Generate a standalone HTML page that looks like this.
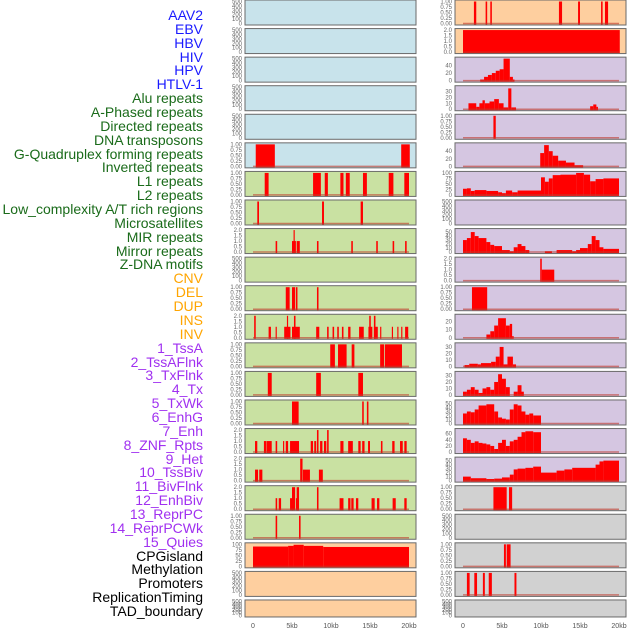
<!DOCTYPE html>
<html><head><meta charset="utf-8">
<style>
body{margin:0;background:#fff;width:630px;height:630px;overflow:hidden;font-family:"Liberation Sans",sans-serif;}
#labels{position:absolute;left:0;top:0;width:203px;}
.lab{position:absolute;right:0;font-size:14px;line-height:14px;white-space:nowrap;text-align:right;}
svg{position:absolute;left:0;top:0;}
</style></head><body>
<div id="labels"></div>
<svg id="chart" width="630" height="630"></svg>
<script>
const trackNames = ["AAV2","EBV","HBV","HIV","HPV","HTLV-1","Alu repeats","A-Phased repeats","Directed repeats","DNA transposons","G-Quadruplex forming repeats","Inverted repeats","L1 repeats","L2 repeats","Low_complexity A/T rich regions","Microsatellites","MIR repeats","Mirror repeats","Z-DNA motifs","CNV","DEL","DUP","INS","INV","1_TssA","2_TssAFlnk","3_TxFlnk","4_Tx","5_TxWk","6_EnhG","7_Enh","8_ZNF_Rpts","9_Het","10_TssBiv","11_BivFlnk","12_EnhBiv","13_ReprPC","14_ReprPCWk","15_Quies","CPGisland","Methylation","Promoters","ReplicationTiming","TAD_boundary"];
const trackGroups = ["v","v","v","v","v","v","r","r","r","r","r","r","r","r","r","r","r","r","r","s","s","s","s","s","c","c","c","c","c","c","c","c","c","c","c","c","c","c","c","o","o","o","o","o"];
const xTicks = [0,5,10,15,20];
const xTickLabels = ["0","5kb","10kb","15kb","20kb"];
// scale type per row: e=empty(0-500), p=0-1, d=0-2, or numeric max with tick step
const leftScales = ["e","e","e","e","e","p","p","p","d","e","p","d","p","p","p","d","d","d","p","a100","e","e"];
const rightScales = ["p","d","a58:20","a37:10","p","a58:20","a100","e","a55:10","d","p","a27:10","a34:10","a34:10","a55:10","a72:20","a55:10","p","e","p","p","e"];
const leftBg = ["b","b","b","b","b","b","g","g","g","g","g","g","g","g","g","g","g","g","g","o","o","o"];
const rightBg = ["o","o","u","u","u","u","u","u","u","u","u","u","u","u","u","u","u","y","y","y","y","y"];
// segments [startKb, endKb, value]
const leftSeries = [
 [],[],[],[],[],
 [[0.35,2.8,1],[19.0,20.1,1]],
 [[1.5,2.0,1],[7.7,8.7,1],[9.2,9.6,1],[11.2,11.6,1],[11.9,12.4,1],[14.1,14.6,1],[17.4,18.0,1],[19.4,20.0,1]],
 [[0.55,0.77,1],[8.85,9.1,1],[13.8,14.1,1]],
 [[2.9,3.1,1],[5.0,5.5,1],[5.2,5.35,2],[5.6,6.0,1],[8.2,8.4,1],[12.6,12.8,1],[15.8,16.0,1],[17.9,18.1,1],[19.5,19.7,1]],
 [],
 [[4.2,4.7,1],[5.0,5.4,1],[5.5,5.7,1],[8.2,8.4,1]],
 [[0.15,0.35,2],[2.0,2.3,1],[2.9,3.05,1],[4.0,4.8,1],[4.35,4.5,2],[5.0,6.0,1],[5.25,5.45,2],[8.1,8.5,1],[9.5,9.7,1],[10.2,10.4,1],[10.8,11.0,1],[11.4,11.6,1],[12.2,12.5,1],[13.6,14.2,1],[14.8,15.3,1],[14.9,15.1,2],[15.5,15.7,2],[15.5,16.0,1],[16.3,16.45,1],[17.8,17.95,1],[18.5,18.65,1],[19.0,19.15,1],[19.5,19.9,1]],
 [[9.9,10.5,1],[10.9,12.0,1],[12.65,13.0,1],[16.3,16.8,1],[16.9,19.1,1]],
 [[1.9,2.4,1],[8.1,8.7,1],[13.5,14.1,1]],
 [[5.0,5.85,1],[14.0,14.2,1],[14.6,14.8,1]],
 [[0.26,0.55,1],[1.4,1.7,1],[1.75,2.4,1],[2.9,3.1,1],[3.85,4.0,1],[4.2,4.5,1],[4.75,5.9,1],[7.4,7.7,1],[7.85,8.1,1],[8.2,8.4,2],[8.6,8.9,1],[9.1,9.4,1],[9.5,9.7,2],[11.2,11.6,1],[12.2,12.8,1],[13.5,13.8,1],[14.0,14.3,1],[14.75,15.0,1],[16.4,16.6,1],[17.85,18.15,1],[18.85,19.2,1],[19.4,19.7,1]],
 [[0.26,0.65,1],[0.8,1.2,1],[6.05,6.35,2],[6.4,7.3,1],[8.45,8.95,1]],
 [[2.9,3.1,1],[3.3,3.6,1],[4.75,5.1,1],[5.0,5.4,2],[5.5,5.9,1],[5.6,5.9,2],[8.2,8.4,2],[11.1,11.6,1],[12.2,12.5,1],[12.6,12.9,1],[13.2,13.5,1],[15.2,15.6,1],[15.9,16.2,1],[17.9,18.3,1],[19.4,19.7,1]],
 [[2.9,3.1,1],[5.9,6.1,1]],
 [[0,4.5,90],[4.5,5.2,93],[5.2,6.5,98],[6.5,9,93],[9,20,88]],
 [],[]
];
const rightSeries = [
 [[1.4,1.7,1],[2.9,3.1,1],[3.5,3.7,1],[12.3,12.7,1],[14.75,15.0,1],[17.7,17.9,1],[18.2,18.6,1]],
 [[0,20.1,2]],
 [[2.2,2.7,3],[2.7,3.2,10],[3.2,3.7,15],[3.7,4.2,20],[4.2,4.7,26],[4.7,5.2,30],[5.2,6.0,58],[6.0,6.4,10],[6.4,6.6,3]],
 [[0.7,1.7,10],[1.7,2.1,4],[2.1,2.5,10],[2.5,2.8,15],[2.8,3.4,10],[3.4,4.0,13],[4.0,4.6,17],[4.6,5.2,10],[5.2,5.8,3],[5.8,6.2,35],[6.2,6.8,3],[16.3,16.7,5],[16.7,17.1,8],[17.1,17.3,4]],
 [[3.9,4.2,1]],
 [[9.9,10.4,35],[10.4,11.0,56],[11.0,11.5,40],[11.5,12.2,28],[12.2,13.2,15],[13.2,14.3,10],[14.3,15.4,3]],
 [[0,0.5,28],[0.5,1,30],[1,1.5,18],[1.5,3,22],[3,4.5,18],[4.5,5,12],[5,5.5,8],[5.5,6.3,20],[6.3,7,12],[7,10,20],[10,10.5,80],[10.5,11,60],[11,11.5,75],[11.5,12.5,90],[12.5,14.5,92],[14.5,15.5,100],[15.5,16.3,92],[16.3,17,62],[17,18,72],[18,20,75]],
 [],
 [[0,0.5,30],[0.5,1,35],[1,1.5,50],[1.5,2,40],[2,3,35],[3,3.5,25],[3.5,4,18],[4,5,15],[5,6,5],[6,6.5,2],[6.5,7,12],[7,7.5,20],[7.5,8,15],[8,8.5,5],[10.5,11.4,2],[12,14,5],[14,14.5,2],[14.5,15,5],[15,16,10],[16,16.5,20],[16.5,17,40],[17,17.5,30],[17.5,18,12],[18,20,8]],
 [[9.9,10.1,2],[10.1,11.7,1]],
 [[1.15,3.1,1]],
 [[3.0,3.5,4],[3.5,4.0,8],[4.0,4.5,15],[4.5,5.5,24],[5.5,6.0,15],[6.0,6.3,17],[6.3,6.5,2]],
 [[0.2,0.8,2],[0.8,1.9,4],[1.9,2.3,3],[2.3,3.6,5],[3.6,4.2,7],[4.2,4.7,15],[4.7,5.2,30],[5.2,5.7,3],[5.7,6.4,15],[6.4,6.8,3]],
 [[0,0.5,5],[0.5,1,8],[1,1.5,12],[1.5,2,8],[2,2.5,3],[2.5,3,10],[3,3.5,12],[3.5,4,8],[4,4.5,20],[4.5,5,32],[5,5.5,25],[5.5,6,12],[6.5,7,5],[7,7.5,15],[7.5,7.8,5]],
 [[0,0.5,25],[0.5,1,30],[1,1.5,28],[1.5,2,35],[2,3,45],[3,4,48],[4,4.5,30],[4.5,5,15],[5,5.5,12],[5.5,6,10],[6,6.5,35],[6.5,7,48],[7,7.5,45],[7.5,8,30],[8,8.5,22],[8.5,9,25],[9,10,20]],
 [[0,0.5,45],[0.5,1,40],[1,1.5,30],[1.5,2,35],[2,2.5,30],[2.5,3,28],[3,3.5,25],[3.5,4,20],[4,4.5,10],[4.5,5,30],[5,5.5,40],[5.5,6,20],[6,6.5,35],[6.5,7,40],[7,7.5,50],[7.5,8,65],[8,9,68],[9,10,65]],
 [[0,1,10],[1,3,6],[3,4,4],[4,5,5],[5,6,8],[6,6.5,15],[6.5,7,28],[7,8,30],[8,9,32],[9,10,35],[10,12,20],[12,13,25],[13,14,28],[14,17,32],[17,17.5,40],[17.5,18,48],[18,20,50]],
 [[3.9,5.6,1],[5.9,6.3,1]],
 [],
 [[5.25,5.5,1],[5.6,6.1,1]],
 [[0.5,0.85,1],[1.45,1.8,1],[2.55,2.8,1],[3.3,3.7,1],[6.6,6.85,1]],
 []
];

const NS="http://www.w3.org/2000/svg";
const svg=document.getElementById('chart');
const bgColors={b:"#c8e3eb",g:"#c9e1a2",o:"#fecf9f",u:"#d5c6e1",y:"#d1d1d1"};
const groupColors={v:"#1a1aff",r:"#1a6b1a",s:"#ffa500",c:"#a030f0",o:"#000000"};
function mk(tag,attrs){const e=document.createElementNS(NS,tag);for(const k in attrs)e.setAttribute(k,attrs[k]);svg.appendChild(e);return e;}
function rowTop(i){return i*28.57;}
function rowH(i){return i===21?17:25;}
function scaleInfo(s){
  if(s==="e")return{max:500,ticks:[0,100,200,300,400,500],fmt:v=>String(v)};
  if(s==="p")return{max:1,ticks:[0,0.25,0.5,0.75,1],fmt:v=>v.toFixed(2)};
  if(s==="d")return{max:2,ticks:[0,0.5,1,1.5,2],fmt:v=>v.toFixed(1)};
  const m=s.match(/^a(\d+)(?::(\d+))?$/);const max=+m[1];const step=m[2]?+m[2]:25;
  const t=[];for(let v=0;v<=max+0.01;v+=step)t.push(v);return{max:max,ticks:t,fmt:v=>String(v)};
}
function drawPanel(col,i){
  const px0=col===0?245:455, pw=171, x0=col===0?253:463, kb=7.8;
  const top=rowTop(i), h=rowH(i);
  const sc=scaleInfo((col===0?leftScales:rightScales)[i]);
  const bg=(col===0?leftBg:rightBg)[i];
  const r=mk('rect',{x:px0,y:top,width:pw,height:h,fill:bgColors[bg],stroke:"#6a6a6a","stroke-width":1});
  
  
  const yb=top+h-1.5, yt=top+1.5;
  const ys=v=>yb-(v/sc.max)*(yb-yt);
  const xs=v=>x0+v*kb;
  sc.ticks.forEach(t=>{
    const tx=mk('text',{x:px0-3,y:ys(t)+2,"font-size":6,fill:"#666","text-anchor":"end"});
    tx.textContent=sc.fmt(t);
    
    
  });
  const segs=(col===0?leftSeries:rightSeries)[i];
  segs.forEach(s=>{
    const b=mk('rect',{x:xs(s[0]),y:ys(s[2]),width:Math.max(1,xs(s[1])-xs(s[0])),height:yb-ys(s[2])+1,fill:"#ff0000"});
    
    
  });
  if(sc.ticks.length && (col===0?leftScales:rightScales)[i]!=="e"){
    const l=mk('line',{x1:xs(0),x2:xs(20),y1:yb,y2:yb,stroke:"#c0392b","stroke-opacity":0.6,"stroke-width":1.5});
    
    
  }
}
for(let i=0;i<22;i++){drawPanel(0,i);drawPanel(1,i);}
[0,1].forEach(col=>{
  const x0=col===0?253:463;
  xTicks.forEach((t,k)=>{
    const tx=mk('text',{x:x0+t*7.8,y:628,"font-size":7,fill:"#555","text-anchor":"middle"});
    tx.textContent=xTickLabels[k];
    
    
  });
});
const labDiv=document.getElementById('labels');
trackNames.forEach((n,k)=>{
  const d=document.createElement('div');
  d.className='lab';
  d.style.top=(8+k*13.86)+'px';
  d.style.color=groupColors[trackGroups[k]];
  d.textContent=n;
  
  
  labDiv.appendChild(d);
});
</script>
</body></html>
